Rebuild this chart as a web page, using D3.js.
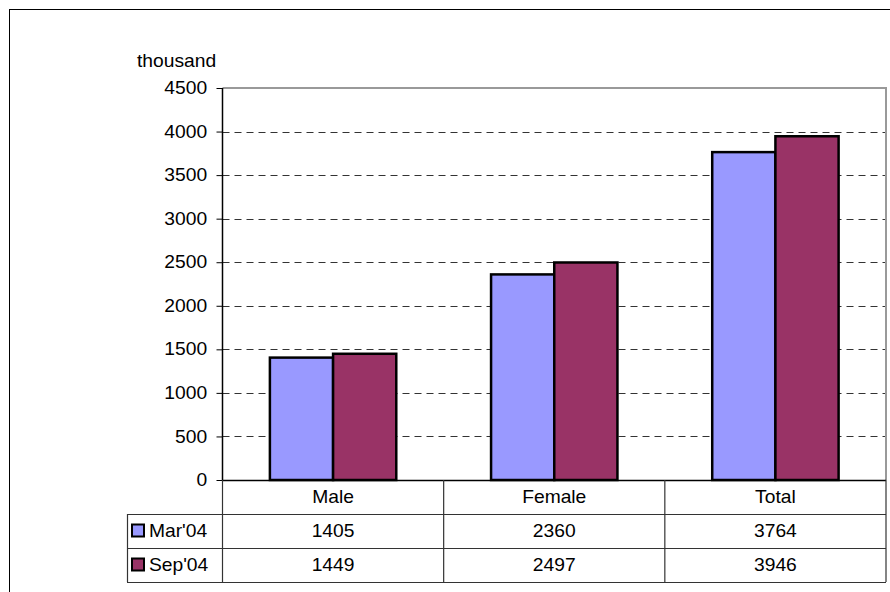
<!DOCTYPE html>
<html>
<head>
<meta charset="utf-8">
<script src="https://cdn.jsdelivr.net/npm/d3@7"></script>
<style>
  html, body { margin: 0; padding: 0; background: #fff; }
  svg { display: block; font-family: "Liberation Sans", Arial, sans-serif; }
</style>
</head>
<body>
<svg id="chart" width="890" height="592"></svg>
<script>
const categories = ["Male", "Female", "Total"];
const seriesNames = ["Mar'04", "Sep'04"];
const marValues = [1405, 2360, 3764];
const sepValues = [1449, 2497, 3946];
const yTicks = [0, 500, 1000, 1500, 2000, 2500, 3000, 3500, 4000, 4500];
const seriesColors = ["#9999FF", "#993366"];
const unitLabel = "thousand";

const series = [marValues, sepValues];
const FS = 17.5;      // font size
const SX = 1.1;       // slight horizontal stretch of the lettering

const svg = d3.select("#chart");

// place a text at (cx, cy) with the horizontal stretch applied
function stretched(sel, cx, cy) {
  return sel.attr("x", cx / SX).attr("y", cy)
    .attr("transform", `scale(${SX},1)`)
    .attr("font-size", FS).attr("fill", "#000");
}

// outer chart frame
svg.append("rect")
  .attr("x", 9.5).attr("y", 9.5)
  .attr("width", 900).attr("height", 600)
  .attr("fill", "none").attr("stroke", "#000").attr("stroke-width", 1);

const plot = { left: 222.5, right: 886, top: 88, bottom: 480 };

const x = d3.scaleBand()
  .domain(categories)
  .range([plot.left, plot.right])
  .paddingInner(0).paddingOuter(0);

const y = d3.scaleLinear()
  .domain([0, 4500])
  .range([plot.bottom, plot.top]);

// gridlines
svg.append("g")
  .selectAll("line")
  .data(yTicks.filter(t => t > 0 && t < 4500))
  .join("line")
  .attr("x1", plot.left).attr("x2", plot.right)
  .attr("y1", d => Math.round(y(d)) + 0.5).attr("y2", d => Math.round(y(d)) + 0.5)
  .attr("stroke", "#333").attr("stroke-width", 1)
  .attr("stroke-dasharray", "7,5");

// plot area border (top and right)
svg.append("path")
  .attr("d", `M${plot.left},${plot.top} H${plot.right} V${plot.bottom}`)
  .attr("fill", "none").attr("stroke", "#999").attr("stroke-width", 2);

// bars: gap width 150% of a bar
const bw = x.bandwidth() / 3.5;
const gBars = svg.append("g");
categories.forEach((c, i) => {
  series.forEach((vals, s) => {
    const x0 = x(c) + 0.75 * bw + s * bw;
    gBars.append("rect")
      .attr("x", x0)
      .attr("y", y(vals[i]))
      .attr("width", bw)
      .attr("height", y(0) - y(vals[i]))
      .attr("fill", seriesColors[s])
      .attr("stroke", "#000").attr("stroke-width", 2.5);
  });
});

// y axis
const yAxis = d3.axisLeft(y)
  .tickValues(yTicks)
  .tickSize(6)
  .tickPadding(8)
  .tickFormat(d3.format("d"));

const ga = svg.append("g")
  .attr("transform", `translate(${plot.left},0)`)
  .call(yAxis);
ga.select(".domain").attr("stroke", "#000").attr("stroke-width", 1.5)
  .attr("d", `M0,${plot.top}V${plot.bottom}`);
ga.selectAll(".tick line").attr("stroke", "#000");
ga.selectAll(".tick text")
  .attr("fill", "#000")
  .attr("font-size", FS)
  .attr("transform", `scale(${SX},1)`)
  .attr("font-family", "Liberation Sans, Arial, sans-serif");

// unit label
svg.append("text").call(stretched, 137, 67).text(unitLabel);

// data table
const rowH = 34;
const tableLeft = 127;
const tbl = svg.append("g");
const lineAttr = sel => sel.attr("stroke", "#333").attr("stroke-width", 1.2);

// horizontal lines
tbl.append("line")
  .attr("x1", plot.left).attr("x2", plot.right)
  .attr("y1", plot.bottom + 0.5).attr("y2", plot.bottom + 0.5)
  .attr("stroke", "#000").attr("stroke-width", 1.5);
[1, 2, 3].forEach(r => {
  tbl.append("line").call(lineAttr)
    .attr("x1", tableLeft).attr("x2", plot.right)
    .attr("y1", plot.bottom + r * rowH + 0.5).attr("y2", plot.bottom + r * rowH + 0.5);
});
// vertical lines
tbl.append("line").call(lineAttr)
  .attr("x1", tableLeft + 0.5).attr("x2", tableLeft + 0.5)
  .attr("y1", plot.bottom + rowH).attr("y2", plot.bottom + 3 * rowH);
tbl.append("line").call(lineAttr)
  .attr("x1", plot.left).attr("x2", plot.left)
  .attr("y1", plot.bottom).attr("y2", plot.bottom + 3 * rowH);
categories.forEach(c => {
  tbl.append("line").call(lineAttr)
    .attr("x1", x(c) + x.bandwidth()).attr("x2", x(c) + x.bandwidth())
    .attr("y1", plot.bottom).attr("y2", plot.bottom + 3 * rowH);
});

// category headers
categories.forEach(c => {
  tbl.append("text")
    .call(stretched, x(c) + x.bandwidth() / 2, plot.bottom + rowH / 2)
    .attr("dy", "0.35em")
    .attr("text-anchor", "middle")
    .text(c);
});

// series rows
series.forEach((vals, s) => {
  const cy = plot.bottom + (s + 1) * rowH + rowH / 2;
  tbl.append("rect")
    .attr("x", 132).attr("y", cy - 6.5)
    .attr("width", 12).attr("height", 12)
    .attr("fill", seriesColors[s])
    .attr("stroke", "#000").attr("stroke-width", 2);
  tbl.append("text")
    .call(stretched, 149, cy)
    .attr("dy", "0.35em")
    .text(seriesNames[s]);
  vals.forEach((v, i) => {
    tbl.append("text")
      .call(stretched, x(categories[i]) + x.bandwidth() / 2, cy)
      .attr("dy", "0.35em")
      .attr("text-anchor", "middle")
      .text(v);
  });
});
</script>
</body>
</html>
